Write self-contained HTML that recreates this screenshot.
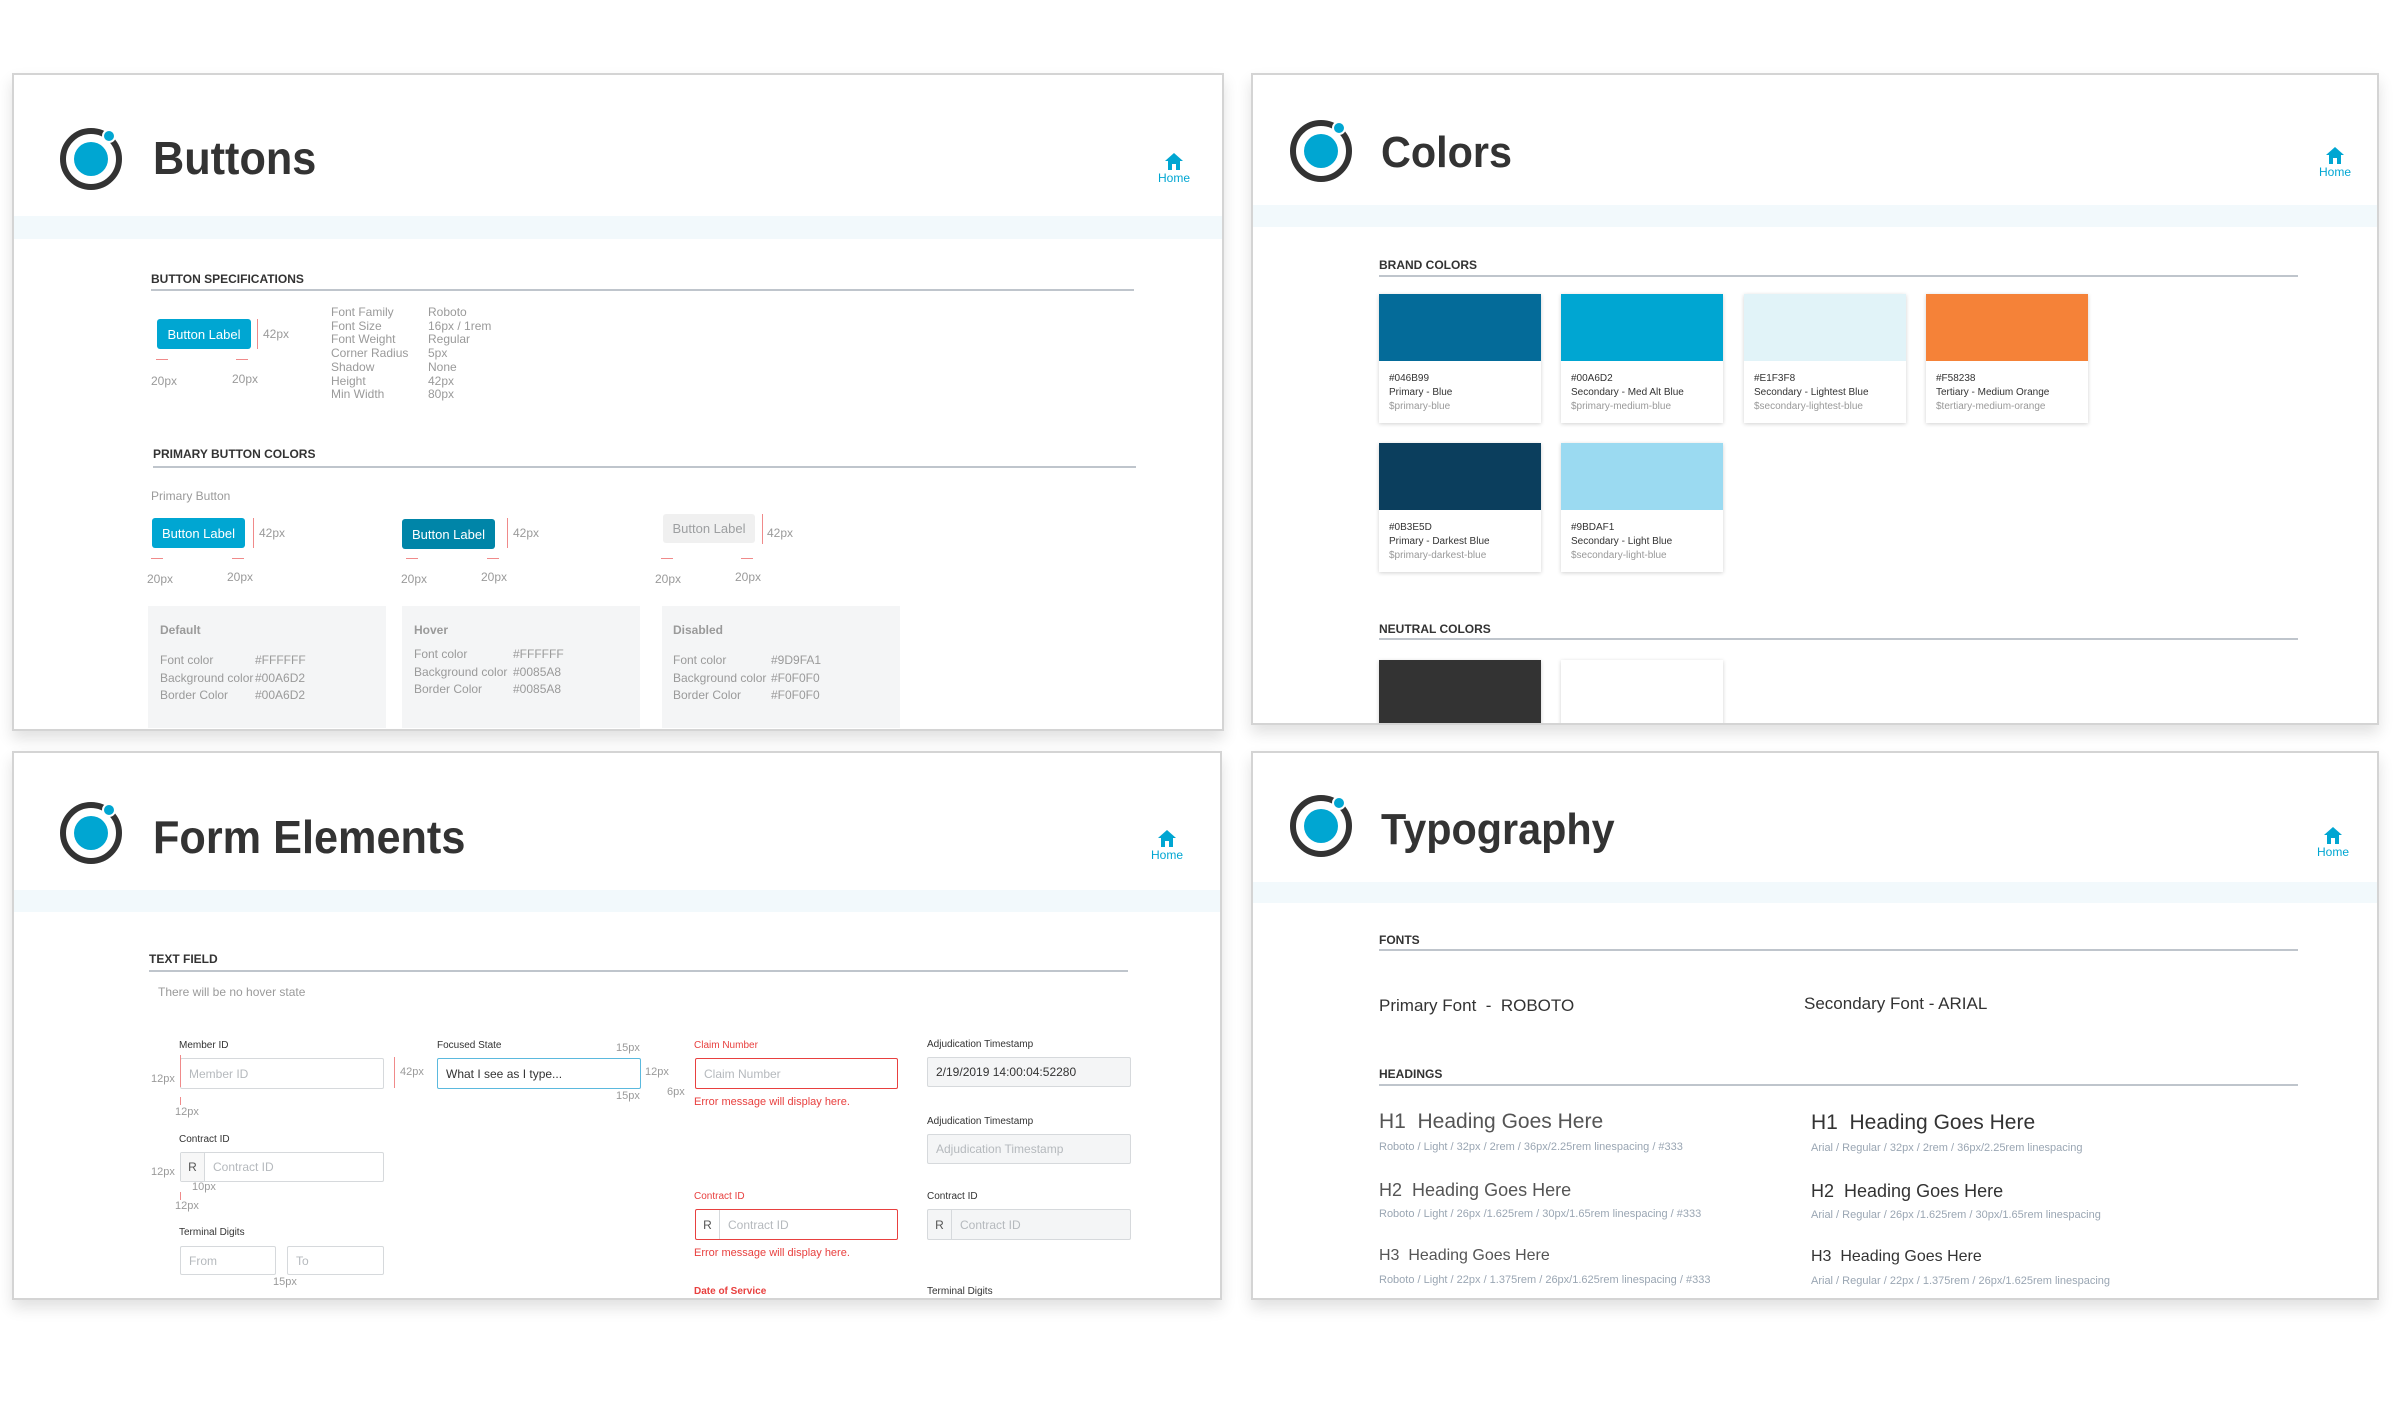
<!DOCTYPE html>
<html><head><meta charset="utf-8">
<style>
*{margin:0;padding:0;box-sizing:border-box}
body{width:2394px;height:1416px;background:#fff;position:relative;overflow:hidden;font-family:"Liberation Sans",Arial,sans-serif;color:#333}
.p{position:absolute;background:#fff;border:2px solid #d4d4d4;box-shadow:0 8px 14px rgba(0,0,0,.12);overflow:hidden}
.a{position:absolute;white-space:nowrap;line-height:1}
.ttl{transform:scaleX(.94);transform-origin:left center}
.band{position:absolute;left:0;right:0;background:#f2f9fc}
.h{font-weight:bold;font-size:12px;color:#333}
.rule{position:absolute;height:2px;background:#bfc5cc}
.g{color:#9a9a9a;font-size:12px}
.btn{position:absolute;border-radius:3px;color:#fff;font-size:13px;display:flex;align-items:center;justify-content:center}
.box{position:absolute;background:#f4f5f6}
.card{position:absolute;background:#fff;box-shadow:0 1px 4px rgba(0,0,0,.18)}
.card .c{height:67px}
.card .l{position:absolute;left:10px;font-size:10px;white-space:nowrap;line-height:1}
.inp{position:absolute;border:1px solid #d6d9dc;border-radius:2px;background:#fff;font-size:12px;color:#b5b9bd;display:flex;align-items:center;padding-left:8px}
.red{color:#e8403f}
.m{position:absolute;background:#f08a8a}
.home{position:absolute;width:40px;text-align:center;color:#00a6d2;font-size:12px;line-height:1}
.cap{font-size:11px;color:#9aa6b3}
</style></head><body>

<!-- Panel 1 Buttons -->
<div class="p" style="left:12px;top:73px;width:1212px;height:658px">
 <svg class="a" style="left:45px;top:44px" width="66" height="76"><circle cx="32" cy="40" r="28" fill="none" stroke="#333" stroke-width="6"/><circle cx="32" cy="40" r="17" fill="#00a6d2"/><circle cx="50" cy="17" r="6" fill="#00a6d2" stroke="#fff" stroke-width="2"/></svg>
 <div class="a ttl" style="left:139px;top:60px;font-size:46px;font-weight:bold">Buttons</div>
 <div class="home" style="left:1140px;top:78px"><svg width="18" height="17"><path d="M9 0L18 8H15V17H11V11H7V17H3V8H0Z" fill="#00a6d2"/></svg><br>Home</div>
 <div class="band" style="top:141px;height:23px"></div>
 <div class="a h" style="left:137px;top:198px">BUTTON SPECIFICATIONS</div>
 <div class="rule" style="left:137px;top:214px;width:983px"></div>
 <div class="btn" style="left:143px;top:244px;width:94px;height:30px;background:#00a6d2">Button Label</div>
 <div class="m" style="left:243px;top:244px;width:1px;height:30px"></div>
 <div class="a g" style="left:249px;top:253px">42px</div>
 <div class="m" style="left:142px;top:284px;width:12px;height:1px"></div>
 <div class="m" style="left:222px;top:284px;width:12px;height:1px"></div>
 <div class="a g" style="left:137px;top:300px">20px</div>
 <div class="a g" style="left:218px;top:298px">20px</div>
 <div class="a g" style="left:317px;top:231px;line-height:13.7px">Font Family<br>Font Size<br>Font Weight<br>Corner Radius<br>Shadow<br>Height<br>Min Width</div>
 <div class="a g" style="left:414px;top:231px;line-height:13.7px">Roboto<br>16px / 1rem<br>Regular<br>5px<br>None<br>42px<br>80px</div>
 <div class="a h" style="left:139px;top:373px">PRIMARY BUTTON COLORS</div>
 <div class="rule" style="left:139px;top:391px;width:983px"></div>
 <div class="a g" style="left:137px;top:415px">Primary Button</div>
 <div class="btn" style="left:138px;top:443px;width:93px;height:30px;background:#00a6d2">Button Label</div>
 <div class="btn" style="left:388px;top:444px;width:93px;height:30px;background:#0085a8">Button Label</div>
 <div class="btn" style="left:649px;top:439px;width:92px;height:29px;background:#f0f0f0;color:#9d9fa1">Button Label</div>
 <div class="m" style="left:239px;top:443px;width:1px;height:30px"></div>
 <div class="m" style="left:493px;top:443px;width:1px;height:30px"></div>
 <div class="m" style="left:748px;top:439px;width:1px;height:30px"></div>
 <div class="a g" style="left:245px;top:452px">42px</div>
 <div class="a g" style="left:499px;top:452px">42px</div>
 <div class="a g" style="left:753px;top:452px">42px</div>
 <div class="m" style="left:137px;top:483px;width:12px;height:1px"></div><div class="m" style="left:218px;top:483px;width:12px;height:1px"></div>
 <div class="m" style="left:392px;top:483px;width:12px;height:1px"></div><div class="m" style="left:473px;top:483px;width:12px;height:1px"></div>
 <div class="m" style="left:647px;top:483px;width:12px;height:1px"></div><div class="m" style="left:727px;top:483px;width:12px;height:1px"></div>
 <div class="a g" style="left:133px;top:498px">20px</div><div class="a g" style="left:213px;top:496px">20px</div>
 <div class="a g" style="left:387px;top:498px">20px</div><div class="a g" style="left:467px;top:496px">20px</div>
 <div class="a g" style="left:641px;top:498px">20px</div><div class="a g" style="left:721px;top:496px">20px</div>
 <div class="box" style="left:134px;top:531px;width:238px;height:122px"></div>
 <div class="box" style="left:388px;top:531px;width:238px;height:122px"></div>
 <div class="box" style="left:648px;top:531px;width:238px;height:122px"></div>
 <div class="a g" style="left:146px;top:549px;font-weight:bold">Default</div>
 <div class="a g" style="left:146px;top:577px;line-height:17.5px">Font color<br>Background color<br>Border Color</div>
 <div class="a g" style="left:241px;top:577px;line-height:17.5px">#FFFFFF<br>#00A6D2<br>#00A6D2</div>
 <div class="a g" style="left:400px;top:549px;font-weight:bold">Hover</div>
 <div class="a g" style="left:400px;top:571px;line-height:17.5px">Font color<br>Background color<br>Border Color</div>
 <div class="a g" style="left:499px;top:571px;line-height:17.5px">#FFFFFF<br>#0085A8<br>#0085A8</div>
 <div class="a g" style="left:659px;top:549px;font-weight:bold">Disabled</div>
 <div class="a g" style="left:659px;top:577px;line-height:17.5px">Font color<br>Background color<br>Border Color</div>
 <div class="a g" style="left:757px;top:577px;line-height:17.5px">#9D9FA1<br>#F0F0F0<br>#F0F0F0</div>
</div>

<!-- Panel 2 Colors -->
<div class="p" style="left:1251px;top:73px;width:1128px;height:652px">
 <svg class="a" style="left:36px;top:36px" width="66" height="76"><circle cx="32" cy="40" r="28" fill="none" stroke="#333" stroke-width="6"/><circle cx="32" cy="40" r="17" fill="#00a6d2"/><circle cx="50" cy="17" r="6" fill="#00a6d2" stroke="#fff" stroke-width="2"/></svg>
 <div class="a ttl" style="left:128px;top:56px;font-size:44px;font-weight:bold">Colors</div>
 <div class="home" style="left:1062px;top:72px"><svg width="18" height="17"><path d="M9 0L18 8H15V17H11V11H7V17H3V8H0Z" fill="#00a6d2"/></svg><br>Home</div>
 <div class="band" style="top:130px;height:22px"></div>
 <div class="a h" style="left:126px;top:184px">BRAND COLORS</div>
 <div class="rule" style="left:126px;top:200px;width:919px"></div>
 <div class="card" style="left:126px;top:219px;width:162px;height:129px"><div class="c" style="background:#046b99"></div><div class="l" style="top:80px">#046B99</div><div class="l" style="top:94px">Primary - Blue</div><div class="l" style="top:108px;color:#999">$primary-blue</div></div>
 <div class="card" style="left:308px;top:219px;width:162px;height:129px"><div class="c" style="background:#00a6d2"></div><div class="l" style="top:80px">#00A6D2</div><div class="l" style="top:94px">Secondary - Med Alt Blue</div><div class="l" style="top:108px;color:#999">$primary-medium-blue</div></div>
 <div class="card" style="left:491px;top:219px;width:162px;height:129px"><div class="c" style="background:#e1f3f8"></div><div class="l" style="top:80px">#E1F3F8</div><div class="l" style="top:94px">Secondary - Lightest Blue</div><div class="l" style="top:108px;color:#999">$secondary-lightest-blue</div></div>
 <div class="card" style="left:673px;top:219px;width:162px;height:129px"><div class="c" style="background:#f58238"></div><div class="l" style="top:80px">#F58238</div><div class="l" style="top:94px">Tertiary - Medium Orange</div><div class="l" style="top:108px;color:#999">$tertiary-medium-orange</div></div>
 <div class="card" style="left:126px;top:368px;width:162px;height:129px"><div class="c" style="background:#0b3e5d"></div><div class="l" style="top:80px">#0B3E5D</div><div class="l" style="top:94px">Primary - Darkest Blue</div><div class="l" style="top:108px;color:#999">$primary-darkest-blue</div></div>
 <div class="card" style="left:308px;top:368px;width:162px;height:129px"><div class="c" style="background:#9bdaf1"></div><div class="l" style="top:80px">#9BDAF1</div><div class="l" style="top:94px">Secondary - Light Blue</div><div class="l" style="top:108px;color:#999">$secondary-light-blue</div></div>
 <div class="a h" style="left:126px;top:548px">NEUTRAL COLORS</div>
 <div class="rule" style="left:126px;top:563px;width:919px"></div>
 <div class="card" style="left:126px;top:585px;width:162px;height:120px;background:#333"></div>
 <div class="card" style="left:308px;top:585px;width:162px;height:120px"></div>
</div>

<!-- Panel 3 Form -->
<div class="p" style="left:12px;top:751px;width:1210px;height:549px">
 <svg class="a" style="left:45px;top:40px" width="66" height="76"><circle cx="32" cy="40" r="28" fill="none" stroke="#333" stroke-width="6"/><circle cx="32" cy="40" r="17" fill="#00a6d2"/><circle cx="50" cy="17" r="6" fill="#00a6d2" stroke="#fff" stroke-width="2"/></svg>
 <div class="a ttl" style="left:139px;top:61px;font-size:46px;font-weight:bold">Form Elements</div>
 <div class="home" style="left:1133px;top:77px"><svg width="18" height="17"><path d="M9 0L18 8H15V17H11V11H7V17H3V8H0Z" fill="#00a6d2"/></svg><br>Home</div>
 <div class="band" style="top:137px;height:22px"></div>
 <div class="a h" style="left:135px;top:200px">TEXT FIELD</div>
 <div class="rule" style="left:135px;top:217px;width:979px"></div>
 <div class="a g" style="left:144px;top:233px">There will be no hover state</div>
 <div class="a" style="left:165px;top:288px;font-size:10px">Member ID</div>
 <div class="inp" style="left:166px;top:305px;width:204px;height:31px">Member ID</div>
 <div class="a" style="left:423px;top:288px;font-size:10px">Focused State</div>
 <div class="inp" style="left:423px;top:305px;width:204px;height:31px;border-color:#5bb9de;color:#333">What I see as I type...</div>
 <div class="a red" style="left:680px;top:288px;font-size:10px">Claim Number</div>
 <div class="inp" style="left:681px;top:305px;width:203px;height:31px;border-color:#e8403f">Claim Number</div>
 <div class="a red" style="left:680px;top:344px;font-size:11px">Error message will display here.</div>
 <div class="a" style="left:913px;top:287px;font-size:10px">Adjudication Timestamp</div>
 <div class="inp" style="left:913px;top:304px;width:204px;height:30px;background:#f4f5f6;color:#333">2/19/2019 14:00:04:52280</div>
 <div class="a" style="left:913px;top:364px;font-size:10px">Adjudication Timestamp</div>
 <div class="inp" style="left:913px;top:381px;width:204px;height:30px;background:#f4f5f6">Adjudication Timestamp</div>
 <div class="a" style="left:165px;top:382px;font-size:10px">Contract ID</div>
 <div class="inp" style="left:166px;top:399px;width:204px;height:30px;padding-left:0"><span style="width:24px;height:100%;border-right:1px solid #d6d9dc;display:flex;align-items:center;justify-content:center;color:#555;background:#f7f7f7">R</span><span style="padding-left:8px">Contract ID</span></div>
 <div class="a red" style="left:680px;top:439px;font-size:10px">Contract ID</div>
 <div class="inp" style="left:681px;top:456px;width:203px;height:31px;padding-left:0;border-color:#e8403f"><span style="width:24px;height:100%;border-right:1px solid #d6d9dc;display:flex;align-items:center;justify-content:center;color:#555">R</span><span style="padding-left:8px">Contract ID</span></div>
 <div class="a red" style="left:680px;top:495px;font-size:11px">Error message will display here.</div>
 <div class="a" style="left:913px;top:439px;font-size:10px">Contract ID</div>
 <div class="inp" style="left:913px;top:456px;width:204px;height:31px;padding-left:0;background:#f4f5f6"><span style="width:24px;height:100%;border-right:1px solid #d6d9dc;display:flex;align-items:center;justify-content:center;color:#555">R</span><span style="padding-left:8px">Contract ID</span></div>
 <div class="a" style="left:165px;top:475px;font-size:10px">Terminal Digits</div>
 <div class="inp" style="left:166px;top:493px;width:96px;height:29px">From</div>
 <div class="inp" style="left:273px;top:493px;width:97px;height:29px">To</div>
 <div class="a red" style="left:680px;top:534px;font-size:10px;font-weight:bold">Date of Service</div>
 <div class="a" style="left:913px;top:534px;font-size:10px">Terminal Digits</div>
 <div class="a g" style="left:137px;top:321px;font-size:11px">12px</div>
 <div class="a g" style="left:161px;top:354px;font-size:11px">12px</div>
 <div class="a g" style="left:386px;top:314px;font-size:11px">42px</div>
 <div class="m" style="left:380px;top:304px;width:1px;height:31px"></div>
 <div class="m" style="left:166px;top:302px;width:1px;height:32px"></div>
 <div class="m" style="left:166px;top:344px;width:1px;height:8px"></div>
 <div class="a g" style="left:602px;top:290px;font-size:11px">15px</div>
 <div class="a g" style="left:602px;top:338px;font-size:11px">15px</div>
 <div class="a g" style="left:631px;top:314px;font-size:11px">12px</div>
 <div class="a g" style="left:653px;top:334px;font-size:11px">6px</div>
 <div class="a g" style="left:137px;top:414px;font-size:11px">12px</div>
 <div class="a g" style="left:178px;top:429px;font-size:11px">10px</div>
 <div class="a g" style="left:161px;top:448px;font-size:11px">12px</div>
 <div class="m" style="left:166px;top:439px;width:1px;height:8px"></div>
 <div class="a g" style="left:259px;top:524px;font-size:11px">15px</div>
</div>

<!-- Panel 4 Typography -->
<div class="p" style="left:1251px;top:751px;width:1128px;height:549px">
 <svg class="a" style="left:36px;top:33px" width="66" height="76"><circle cx="32" cy="40" r="28" fill="none" stroke="#333" stroke-width="6"/><circle cx="32" cy="40" r="17" fill="#00a6d2"/><circle cx="50" cy="17" r="6" fill="#00a6d2" stroke="#fff" stroke-width="2"/></svg>
 <div class="a ttl" style="left:128px;top:55px;font-size:44px;font-weight:bold">Typography</div>
 <div class="home" style="left:1060px;top:74px"><svg width="18" height="17"><path d="M9 0L18 8H15V17H11V11H7V17H3V8H0Z" fill="#00a6d2"/></svg><br>Home</div>
 <div class="band" style="top:129px;height:21px"></div>
 <div class="a h" style="left:126px;top:181px">FONTS</div>
 <div class="rule" style="left:126px;top:196px;width:919px"></div>
 <div class="a" style="left:126px;top:244px;font-size:17px">Primary Font&nbsp; - &nbsp;ROBOTO</div>
 <div class="a" style="left:551px;top:242px;font-size:17px">Secondary Font - ARIAL</div>
 <div class="a h" style="left:126px;top:315px">HEADINGS</div>
 <div class="rule" style="left:126px;top:331px;width:919px"></div>
 <div class="a" style="left:126px;top:358px;font-size:21px;color:#555">H1&nbsp; Heading Goes Here</div>
 <div class="a" style="left:558px;top:359px;font-size:21px">H1&nbsp; Heading Goes Here</div>
 <div class="a cap" style="left:126px;top:389px">Roboto / Light / 32px / 2rem / 36px/2.25rem linespacing / #333</div>
 <div class="a cap" style="left:558px;top:390px">Arial / Regular / 32px / 2rem / 36px/2.25rem linespacing</div>
 <div class="a" style="left:126px;top:428px;font-size:18px;color:#555">H2&nbsp; Heading Goes Here</div>
 <div class="a" style="left:558px;top:429px;font-size:18px">H2&nbsp; Heading Goes Here</div>
 <div class="a cap" style="left:126px;top:456px">Roboto / Light / 26px /1.625rem / 30px/1.65rem linespacing / #333</div>
 <div class="a cap" style="left:558px;top:457px">Arial / Regular / 26px /1.625rem / 30px/1.65rem linespacing</div>
 <div class="a" style="left:126px;top:495px;font-size:16px;color:#555">H3&nbsp; Heading Goes Here</div>
 <div class="a" style="left:558px;top:496px;font-size:16px">H3&nbsp; Heading Goes Here</div>
 <div class="a cap" style="left:126px;top:522px">Roboto / Light / 22px / 1.375rem / 26px/1.625rem linespacing / #333</div>
 <div class="a cap" style="left:558px;top:523px">Arial / Regular / 22px / 1.375rem / 26px/1.625rem linespacing</div>
</div>
</body></html>
